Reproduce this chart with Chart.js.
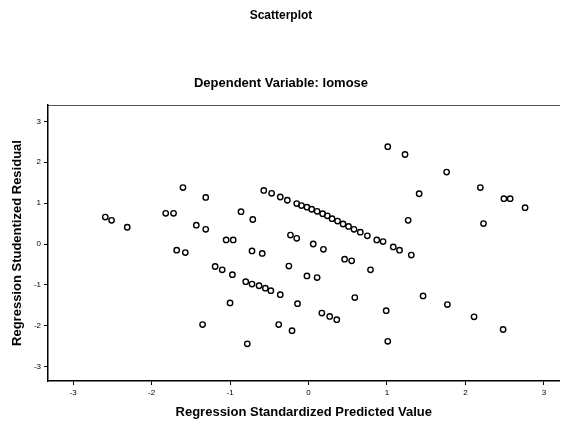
<!DOCTYPE html>
<html>
<head>
<meta charset="utf-8">
<script src="https://cdn.jsdelivr.net/npm/chart.js@4"></script>
<style>
  html, body { margin: 0; padding: 0; background: #fff; }
</style>
</head>
<body>
<canvas id="scatterChart" width="565" height="427"></canvas>
<script>
// Regression standardized predicted value (x) and studentized residual (y)
const predicted = [
  -2.59, -2.51, -2.31, -1.82, -1.72, -1.60, -1.31, -1.43, -1.31, -1.05,
  -0.96, -1.68, -1.57, -1.19, -1.10, -0.97, -1.00, -1.35, -0.86, -0.71,
  -0.57, -0.47, -0.36, -0.27,
  -0.15, -0.09, -0.02, 0.04, 0.11, 0.18, 0.24, 0.30, 0.37, 0.44,
  0.51, 0.58, 0.66, 0.75, 0.87, 0.95, 1.08, 1.16, 1.31,
  -0.23, -0.15, 0.06, 0.19, 0.46, 0.55, 0.79, -0.72, -0.59, -0.25, -0.02,
  0.11, -0.80, -0.72, -0.63, -0.55, -0.48, -0.36, 0.59, -0.14, 0.17, 0.27,
  0.36, -0.38, -0.21, -0.78, 1.01, 1.23, 1.76, 2.19, 1.41, 2.49,
  2.57, 2.76, 1.27, 2.23, 1.46, 1.77, 0.99, 2.11, 2.48, 1.01
];
const residual = [
  0.66, 0.58, 0.41, 0.75, 0.75, 1.38, 1.14, 0.46, 0.36, 0.10,
  0.10, -0.15, -0.21, -0.55, -0.63, -0.75, -1.44, -1.97, 0.79, 0.60,
  1.31, 1.24, 1.15, 1.07,
  0.99, 0.94, 0.90, 0.85, 0.80, 0.74, 0.69, 0.62, 0.56, 0.49,
  0.43, 0.36, 0.29, 0.20, 0.10, 0.06, -0.07, -0.15, -0.27,
  0.22, 0.14, 0.00, -0.13, -0.37, -0.41, -0.63, -0.17, -0.23, -0.54, -0.78,
  -0.82, -0.92, -0.98, -1.02, -1.08, -1.14, -1.24, -1.31, -1.46, -1.69, -1.77,
  -1.85, -1.97, -2.12, -2.44, 2.38, 2.19, 1.76, 1.38, 1.23, 1.11,
  1.11, 0.89, 0.58, 0.50, -1.27, -1.48, -1.63, -1.78, -2.09, -2.38
];
const tickValues = [-3, -2, -1, 0, 1, 2, 3];

const points = predicted.map((x, i) => ({ x: x, y: residual[i] }));

const fontFamily = "'Liberation Sans', Arial, sans-serif";

const ctx = document.getElementById('scatterChart');
const chart = new Chart(ctx, {
  type: 'scatter',
  data: {
    datasets: [{
      data: points,
      pointStyle: 'circle',
      pointRadius: 2.7,
      pointBorderWidth: 1.4,
      pointBorderColor: '#000',
      pointBackgroundColor: 'rgba(255,255,255,0)'
    }]
  },
  options: {
    responsive: false,
    animation: false,
    layout: { padding: { left: 0, right: 3, top: 0, bottom: 0 } },
    plugins: {
      legend: { display: false },
      tooltip: { enabled: false },
      title: {
        display: true,
        text: 'Scatterplot',
        color: '#000',
        font: { family: fontFamily, size: 12, weight: 'bold' },
        padding: { top: 8, bottom: 0 }
      },
      subtitle: {
        display: true,
        text: 'Dependent Variable: lomose',
        color: '#000',
        font: { family: fontFamily, size: 13, weight: 'bold' },
        padding: { top: 53, bottom: 14 }
      }
    },
    scales: {
      x: {
        type: 'linear',
        min: -3.32,
        max: 3.2,
        afterFit: (scale) => { scale.height = 46; },
        afterBuildTicks: (scale) => { scale.ticks = tickValues.map(v => ({ value: v })); },
        border: { display: true, color: '#000', width: 1.5 },
        grid: { display: true, drawOnChartArea: false, tickLength: 4, color: '#000' },
        ticks: {
          color: '#000',
          padding: 3,
          font: { family: fontFamily, size: 8 },
          maxRotation: 0
        },
        title: {
          display: true,
          text: 'Regression Standardized Predicted Value',
          color: '#000',
          font: { family: fontFamily, size: 13, weight: 'bold' },
          padding: { top: 0, bottom: 7 }
        }
      },
      x2: {
        type: 'linear',
        position: 'top',
        min: -3.32,
        max: 3.2,
        afterFit: (scale) => { scale.height = 0; },
        border: { display: true, color: '#555', width: 1, dash: [4, 3] },
        grid: { display: false },
        ticks: { display: false }
      },
      y: {
        type: 'linear',
        min: -3.35,
        max: 3.4,
        afterFit: (scale) => { scale.width = 48; },
        afterBuildTicks: (scale) => { scale.ticks = tickValues.map(v => ({ value: v })); },
        border: { display: true, color: '#000', width: 1.5 },
        grid: { display: true, drawOnChartArea: false, tickLength: 4, color: '#000' },
        ticks: {
          color: '#000',
          padding: 3,
          font: { family: fontFamily, size: 8 }
        },
        title: {
          display: true,
          text: 'Regression Studentized Residual',
          color: '#000',
          font: { family: fontFamily, size: 13, weight: 'bold' },
          padding: { top: 10, bottom: 0 }
        }
      }
    }
  }
});
</script>
</body>
</html>
